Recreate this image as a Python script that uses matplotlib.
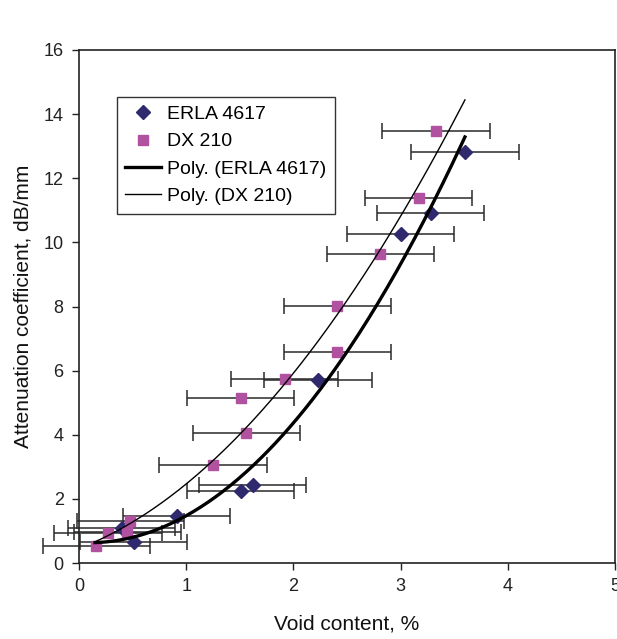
import numpy as np
import matplotlib
matplotlib.use("Agg")
import matplotlib.pyplot as plt

plt.rcParams["font.family"] = ["Liberation Sans", "DejaVu Sans"]

# ERLA 4617 (diamonds)
erla_x = [0.40, 0.51, 0.91, 1.51, 1.62, 2.23, 3.00, 3.28, 3.60]
erla_y = [1.08, 0.64, 1.48, 2.26, 2.43, 5.72, 10.25, 10.91, 12.82]
# DX 210 (squares)
dx_x = [0.16, 0.27, 0.45, 0.48, 1.25, 1.51, 1.56, 1.92, 2.41, 2.41, 2.81, 3.17, 3.33]
dx_y = [0.52, 0.93, 0.96, 1.32, 3.06, 5.16, 4.05, 5.73, 6.59, 8.01, 9.63, 11.39, 13.47]
x_err = 0.5
fit_range = [0.15, 3.6]

diamond_color = "#2f2a6e"
square_color = "#b0529f"

fig = plt.figure(figsize=(6.17, 6.39), dpi=100)
ax = fig.add_axes([79 / 617, 76 / 639, 536 / 617, 513 / 639])

for xv, yv in [(erla_x, erla_y), (dx_x, dx_y)]:
    eb = ax.errorbar(xv, yv, xerr=x_err, fmt="none", ecolor="#2a2a2a",
                     elinewidth=1.1, capsize=6, capthick=1.1, zorder=2)
    for artist in eb.lines[1] + eb.lines[2]:
        artist.set_clip_on(False)

ax.plot(erla_x, erla_y, linestyle="none", marker="D", markersize=7,
        color=diamond_color, label="ERLA 4617", zorder=3, clip_on=False)
ax.plot(dx_x, dx_y, linestyle="none", marker="s", markersize=7,
        color=square_color, label="DX 210", zorder=3, clip_on=False)

xs = np.linspace(fit_range[0], fit_range[1], 200)
erla_fit = np.polyfit(erla_x, erla_y, 2)
dx_fit = np.polyfit(dx_x, dx_y, 2)
ax.plot(xs, np.polyval(erla_fit, xs), color="black", linewidth=2.4,
        label="Poly. (ERLA 4617)", zorder=4)
ax.plot(xs, np.polyval(dx_fit, xs), color="black", linewidth=1.0,
        label="Poly. (DX 210)", zorder=4)

ax.set_xlim(0, 5)
ax.set_ylim(0, 16)
ax.set_xticks(range(0, 6))
ax.set_yticks(range(0, 17, 2))
ax.tick_params(direction="out", length=5, width=1, labelsize=13,
               colors="#222222", pad=6)
for spine in ax.spines.values():
    spine.set_linewidth(1.2)
    spine.set_color("#222222")

ax.set_xlabel("Void content, %", fontsize=15, labelpad=14, color="#111111")
ax.set_ylabel("Attenuation coefficient, dB/mm", fontsize=15, labelpad=8,
              color="#111111")

leg = ax.legend(loc="upper left", bbox_to_anchor=(0.07, 0.909), fontsize=14,
                frameon=True, fancybox=False, borderpad=0.45,
                handlelength=1.85, handletextpad=0.3, labelspacing=0.5,
                borderaxespad=0)
leg.get_frame().set_edgecolor("black")
leg.get_frame().set_linewidth(1.0)

fig.savefig("out.png", dpi=100)
